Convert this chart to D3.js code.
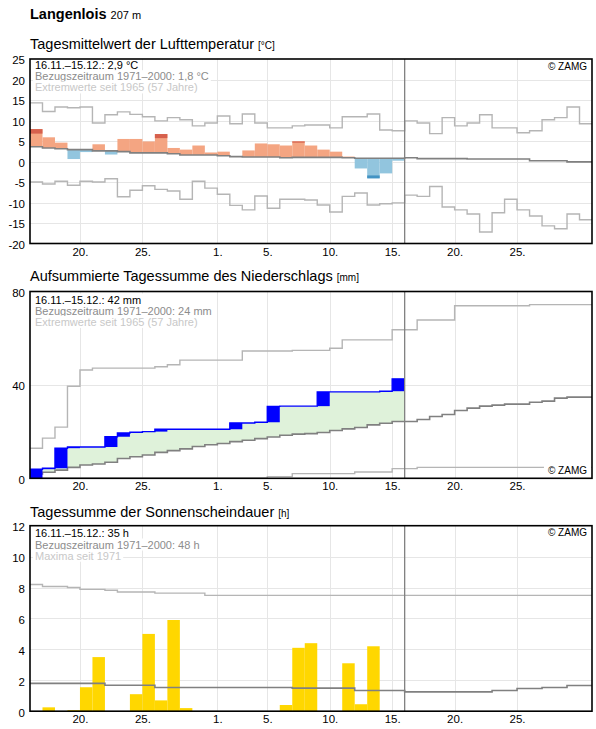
<!DOCTYPE html>
<html><head><meta charset="utf-8">
<script src="https://cdn.jsdelivr.net/npm/d3@7"></script>
<style>
body{margin:0;background:#fff;}
svg{display:block;font-family:"Liberation Sans",Arial,sans-serif;}
</style></head><body>
<svg id="c" width="596" height="729"></svg>
<script>
// ---------- DATA ----------
const station = "Langenlois";
const altitude = "207 m";
const startDate = "2021-11-16";
const endDate = "2021-12-31";
const markerDate = "2021-12-16";
const xTickDates = ["2021-11-20","2021-11-25","2021-12-01","2021-12-05","2021-12-10","2021-12-15","2021-12-20","2021-12-25"];

// Temperature (°C)
const tempTicks = [-20,-15,-10,-5,0,5,10,15,20,25];
const tempActual = [7.9,5.9,4.6,0.6,2.3,4.2,1.7,5.5,5.5,4.9,6.7,3.3,2.9,3.9,2.2,2.4,1.3,2.7,4.4,4.2,3.9,4.9,3.9,2.9,2.4,1.2,-1.7,-4.1,-2.9,0.2];
const tempDarkFrom = [6.8,null,null,null,null,null,null,null,null,null,5.7,null,null,null,null,null,null,null,null,null,null,4.6,null,null,null,null,null,-3.4,null,null];
const tempMean = [3.6,3.3,3.1,2.9,2.9,2.6,2.6,2.4,2.1,2.1,2.1,1.9,1.6,1.6,1.6,1.4,1.2,1.1,1.1,1.1,0.9,1.0,1.0,1.0,1.0,0.9,0.8,0.8,0.8,0.8,0.9,0.7,0.7,0.7,0.7,0.6,0.6,0.6,0.6,0.6,0.2,0.2,0.2,-0.1,-0.1];
const tempMax = [14.3,12.2,13.3,13.1,13.3,9.4,11.4,12.1,11.5,10.9,9.9,10.7,10.2,8.7,9.4,11.1,9.2,11.6,9.4,8.2,8.2,8.7,8.9,8.9,8.2,10.9,10.9,11.6,7.7,7.5,9.9,9.4,6.8,10.7,8.7,9.4,11.4,8.2,8.2,7.0,7.5,10.2,10.7,13.3,9.2];
const tempMin = [-5.0,-5.5,-4.8,-5.8,-4.8,-5.0,-4.2,-8.6,-7.0,-5.9,-6.8,-7.2,-9.2,-4.8,-6.5,-8.0,-10.7,-11.8,-8.4,-11.4,-9.2,-9.2,-9.4,-10.6,-12.3,-8.5,-7.7,-10.6,-10.3,-10.1,-8.2,-8.5,-6.1,-11.1,-11.8,-12.8,-17.2,-12.5,-9.2,-11.8,-13.3,-15.7,-16.4,-12.8,-14.2];

// Precipitation, cumulative (mm)
const precipTicks = [0,40,80];
const precipCum = [3.9,4.3,12.9,13.4,13.4,13.4,17.8,19.4,19.7,20.0,21.0,21.0,21.0,21.0,21.0,21.0,23.7,23.7,24.0,30.8,30.9,30.9,30.9,37.0,37.0,37.0,37.0,37.0,37.3,42.6];
const precipMean = [1.85,2.6,3.5,4.7,5.7,6.1,6.85,8.5,9.2,10.0,11.1,11.85,12.6,13.6,14.4,14.9,15.7,16.3,17.0,17.7,18.45,18.9,19.15,19.6,20.45,21.15,21.75,22.9,23.6,24.3,24.3,25.2,26.45,27.3,29.05,30.05,30.9,31.35,31.75,31.75,32.6,33.05,34.35,34.75,34.75];
const precipMax = [12.9,17.2,21.9,39.4,46.4,47.2,47.2,47.2,47.2,47.2,47.8,48.6,50.6,50.6,50.6,50.6,50.6,54.5,54.5,54.5,54.5,54.8,54.8,54.8,55.7,59.3,59.3,59.3,59.3,63.6,63.6,67.8,67.8,67.8,73.9,73.9,73.9,73.9,73.9,73.9,74.4,74.4,74.4,74.4,74.4];
const precipMin = [0,0,0,0,0,0,0,0,0,0,0,0,0,0,0,0,0,0,0,0.7,0.7,2.0,2.0,2.0,2.0,2.0,2.7,2.7,2.7,4.15,4.15,4.7,4.7,4.7,4.7,4.7,4.7,4.7,4.7,4.7,4.7,4.7,4.7,4.7,4.7];

// Sunshine duration (h)
const sunTicks = [0,2,4,6,8,10,12];
const sunActual = [0,0.25,0,0.07,1.55,3.5,0,0,1.1,5.0,0.7,5.9,0.2,0,0,0,0,0,0,0,0.4,4.1,4.4,0,0,3.1,0.45,4.2,0,0];
const sunMean = [1.8,1.8,1.8,1.8,1.8,1.8,1.68,1.68,1.68,1.68,1.53,1.53,1.53,1.53,1.53,1.53,1.53,1.53,1.53,1.53,1.53,1.49,1.49,1.49,1.49,1.49,1.34,1.34,1.34,1.34,1.25,1.25,1.25,1.25,1.25,1.25,1.25,1.34,1.34,1.47,1.47,1.53,1.53,1.66,1.66];
const sunMax = [8.2,8.07,8.07,8.0,7.88,7.88,7.82,7.71,7.71,7.71,7.64,7.64,7.64,7.64,7.49,7.49,7.49,7.49,7.49,7.49,7.49,7.49,7.49,7.49,7.49,7.49,7.49,7.49,7.49,7.49,7.49,7.49,7.49,7.49,7.49,7.49,7.49,7.49,7.49,7.49,7.49,7.49,7.49,7.49,7.49];

// Texts
const tempTitle = ["Tagesmittelwert der Lufttemperatur", "[°C]"];
const tempInfo = ["16.11.–15.12.: 2,9 °C", "Bezugszeitraum 1971–2000: 1,8 °C", "Extremwerte seit 1965 (57 Jahre)"];
const precipTitle = ["Aufsummierte Tagessumme des Niederschlags", "[mm]"];
const precipInfo = ["16.11.–15.12.: 42 mm", "Bezugszeitraum 1971–2000: 24 mm", "Extremwerte seit 1965 (57 Jahre)"];
const sunTitle = ["Tagessumme der Sonnenscheindauer", "[h]"];
const sunInfo = ["16.11.–15.12.: 35 h", "Bezugszeitraum 1971–2000: 48 h", "Maxima seit 1971"];
const credit = "© ZAMG";

// ---------- DRAW ----------
const svg = d3.select("#c");
const parse = d3.utcParse("%Y-%m-%d");
const t0 = parse(startDate);
const day = i => d3.utcDay.offset(t0, i);
const L = 30, R = 592;
const x = d3.scaleUtc().domain([t0, parse(endDate)]).range([L, R]);

const C = {
  grid: "#e6e6e6", frame: "#000", mean: "#808080", ext: "#b5b5b5", marker: "#808080",
  warm: "#f4a582", warmD: "#d6604d", cold: "#92c5de", coldD: "#4393c3",
  blue: "#0000ff", green: "#dff2da", sun: "#ffd700",
  info1: "#000", info2: "#8c8c8c", info3: "#c8c8c8"
};

svg.append("text").attr("x", 30).attr("y", 19).attr("font-size", 14.5).attr("font-weight", "bold")
  .text(station).append("tspan").attr("font-weight", "normal").attr("font-size", 11).attr("dx", 4).text(altitude);

function textWithBg(g, sel) {
  const bb = sel.node().getBBox();
  g.append("rect").attr("x", bb.x - 2).attr("y", bb.y).attr("width", bb.width + 4).attr("height", bb.height)
    .attr("fill", "#fff");
  sel.raise();
}

function panel(cfg) {
  const g = svg.append("g");
  const y = d3.scaleLinear().domain(cfg.domain).range([cfg.bottom, cfg.top]);
  // title
  g.append("text").attr("x", 30).attr("y", cfg.titleY).attr("font-size", 14.5).attr("fill", "#000")
    .text(cfg.title[0]).append("tspan").attr("font-size", 10).attr("dx", 4).text(cfg.title[1]);
  // gridlines
  const gg = g.append("g");
  gg.selectAll("line.h").data(cfg.ticks.filter(v => v > cfg.domain[0] && v < cfg.domain[1])).join("line")
    .attr("x1", L).attr("x2", R).attr("y1", d => Math.round(y(d)) + 0.5).attr("y2", d => Math.round(y(d)) + 0.5)
    .attr("stroke", C.grid).attr("stroke-width", 1);
  gg.selectAll("line.v").data(xTickDates.map(parse)).join("line")
    .attr("x1", d => Math.round(x(d)) + 0.5).attr("x2", d => Math.round(x(d)) + 0.5)
    .attr("y1", cfg.top).attr("y2", cfg.bottom)
    .attr("stroke", C.grid).attr("stroke-width", 1);
  // axes labels
  const ya = g.append("g").attr("transform", `translate(${L},0)`)
    .call(d3.axisLeft(y).tickValues(cfg.ticks).tickSize(0).tickPadding(5).tickFormat(d => String(d)));
  ya.select(".domain").remove();
  ya.selectAll("text").attr("font-size", 11.5).attr("font-family", null).attr("fill", "#000").attr("dy", "0.42em");
  const xa = g.append("g").attr("transform", `translate(0,${cfg.bottom})`)
    .call(d3.axisBottom(x).tickValues(xTickDates.map(parse)).tickSize(0).tickPadding(4)
      .tickFormat(d => d.getUTCDate() + "."));
  xa.select(".domain").remove();
  xa.selectAll("text").attr("font-size", 11.5).attr("font-family", null).attr("fill", "#000");
  const plot = g.append("g");
  cfg.draw(plot, y);
  // marker line for today
  g.append("line").attr("x1", x(parse(markerDate))).attr("x2", x(parse(markerDate)))
    .attr("y1", cfg.top).attr("y2", cfg.bottom).attr("stroke", C.marker).attr("stroke-width", 1.3);
  // info
  const cols = [C.info1, C.info2, C.info3];
  cfg.info.forEach((s, i) => {
    const t = g.append("text").attr("x", 35).attr("y", cfg.infoY + i * 11.2).attr("font-size", 11).attr("fill", cols[i]).text(s);
    textWithBg(g, t);
  });
  // credit
  const cy = cfg.creditBottom ? cfg.bottom - 4.5 : cfg.top + 10.5;
  const ct = g.append("text").attr("x", 587).attr("y", cy).attr("text-anchor", "end").attr("font-size", 10).attr("fill", "#000").text(credit);
  if (cfg.creditBottom) {
    const bb = ct.node().getBBox();
    g.append("rect").attr("x", bb.x - 4).attr("y", bb.y - 1).attr("width", bb.width + 8).attr("height", bb.height + 1).attr("fill", "#fff");
    ct.raise();
  }
  // frame
  g.append("rect").attr("x", L).attr("y", cfg.top).attr("width", R - L).attr("height", cfg.bottom - cfg.top)
    .attr("fill", "none").attr("stroke", C.frame).attr("stroke-width", 1.6);
  return y;
}

function stepLine(vals, y) {
  const pts = vals.map((v, i) => [x(day(i)), y(v)]);
  pts.push([x(day(vals.length)), y(vals[vals.length - 1])]);
  return d3.line().curve(d3.curveStepAfter)(pts);
}
const dayW = i => x(day(i + 1)) - x(day(i));

// Panel 1: temperature
panel({
  domain: [-20, 25], top: 59, bottom: 243.5, ticks: tempTicks, title: tempTitle, titleY: 49,
  info: tempInfo, infoY: 69,
  draw: (p, y) => {
    tempActual.forEach((v, i) => {
      const m = tempMean[i];
      const warm = v >= m;
      p.append("rect").attr("x", x(day(i))).attr("width", dayW(i))
        .attr("y", y(Math.max(v, m))).attr("height", Math.abs(y(v) - y(m)))
        .attr("fill", warm ? C.warm : C.cold);
      const t = tempDarkFrom[i];
      if (t !== null) {
        p.append("rect").attr("x", x(day(i))).attr("width", dayW(i))
          .attr("y", y(Math.max(v, t))).attr("height", Math.abs(y(v) - y(t)))
          .attr("fill", warm ? C.warmD : C.coldD);
      }
    });
    p.append("path").attr("d", stepLine(tempMax, y)).attr("fill", "none").attr("stroke", C.ext).attr("stroke-width", 1.4);
    p.append("path").attr("d", stepLine(tempMin, y)).attr("fill", "none").attr("stroke", C.ext).attr("stroke-width", 1.4);
    p.append("path").attr("d", stepLine(tempMean, y)).attr("fill", "none").attr("stroke", C.mean).attr("stroke-width", 1.6);
  }
});

// Panel 2: precipitation
panel({
  domain: [0, 80], top: 291.5, bottom: 478.3, ticks: precipTicks, title: precipTitle, titleY: 281,
  info: precipInfo, infoY: 303.5, creditBottom: true,
  draw: (p, y) => {
    const n = precipCum.length;
    const pts = d3.range(n + 1).map(i => ({ i, a: precipCum[Math.min(i, n - 1)], m: precipMean[Math.min(i, n - 1)] }));
    p.append("path").attr("d", d3.area().curve(d3.curveStepAfter)
        .x(d => x(day(d.i))).y0(d => y(d.m)).y1(d => y(d.a))(pts))
      .attr("fill", C.green);
    p.append("path").attr("d", stepLine(precipMax, y)).attr("fill", "none").attr("stroke", C.ext).attr("stroke-width", 1.4);
    p.append("path").attr("d", stepLine(precipMin, y)).attr("fill", "none").attr("stroke", C.ext).attr("stroke-width", 1.4);
    p.append("path").attr("d", stepLine(precipMean, y)).attr("fill", "none").attr("stroke", C.mean).attr("stroke-width", 1.6);
    p.append("path").attr("d", stepLine(precipCum, y)).attr("fill", "none").attr("stroke", C.blue).attr("stroke-width", 1.4);
    precipCum.forEach((v, i) => {
      const prev = i === 0 ? 0 : precipCum[i - 1];
      if (v - prev > 0.35) {
        p.append("rect").attr("x", x(day(i))).attr("width", dayW(i))
          .attr("y", y(v)).attr("height", y(prev) - y(v)).attr("fill", C.blue);
      }
    });
  }
});

// Panel 3: sunshine
panel({
  domain: [0, 12], top: 525.7, bottom: 711.2, ticks: sunTicks, title: sunTitle, titleY: 517,
  info: sunInfo, infoY: 537.3,
  draw: (p, y) => {
    sunActual.forEach((v, i) => {
      if (v > 0) p.append("rect").attr("x", x(day(i))).attr("width", dayW(i))
        .attr("y", y(v)).attr("height", y(0) - y(v)).attr("fill", C.sun);
    });
    p.append("path").attr("d", stepLine(sunMax, y)).attr("fill", "none").attr("stroke", C.ext).attr("stroke-width", 1.4);
    p.append("path").attr("d", stepLine(sunMean, y)).attr("fill", "none").attr("stroke", C.mean).attr("stroke-width", 1.6);
  }
});
</script>
</body></html>
